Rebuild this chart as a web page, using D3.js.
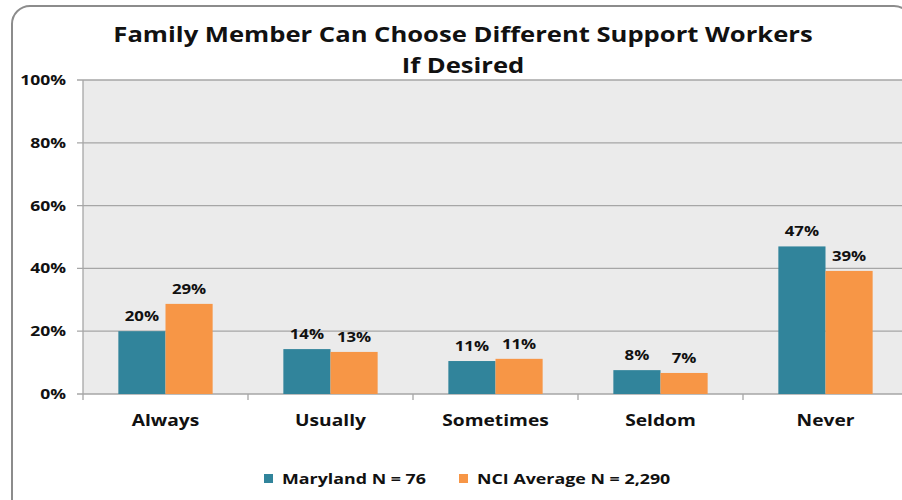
<!DOCTYPE html>
<html><head><meta charset="utf-8">
<script src="https://cdn.jsdelivr.net/npm/d3@7"></script>
<style>body{margin:0;background:#fff}svg{display:block}</style>
</head><body>
<svg id="c" width="902" height="500"></svg>
<script>
const categories = ["Always","Usually","Sometimes","Seldom","Never"];
const seriesNames = ["Maryland N = 76","NCI Average N = 2,290"];
const maryland = [20,14.3,10.5,7.6,47];
const nci = [28.7,13.4,11.2,6.7,39.2];
const yTicks = [0,20,40,60,80,100];
const colors = ["#31849b","#f79646"];
const titleLines = ["Family Member Can Choose Different Support Workers","If Desired"];

const svg = d3.select("#c");
const font = "'Open Sans', sans-serif";

function txt(parent, x, y, s, size, anchor, sx){
  return parent.append("text")
    .attr("transform",`translate(${x},${y}) scale(${sx},1)`)
    .attr("text-anchor",anchor).attr("font-family",font).attr("font-weight","bold")
    .attr("font-size",size).attr("fill","#111").text(s);
}

svg.append("rect").attr("x",12).attr("y",6).attr("width",900).attr("height",520)
  .attr("rx",18).attr("fill","#fff").attr("stroke","#8c8c8c").attr("stroke-width",2);

const L=83, T=80, B=394, R=908;
const x = d3.scaleBand().domain(categories).range([L,R]);
const y = d3.scaleLinear().domain([0,100]).range([B,T]);
svg.append("rect").attr("x",L).attr("y",T).attr("width",R-L).attr("height",B-T).attr("fill","#ebebeb");

svg.append("g").selectAll("line").data(yTicks).join("line")
  .attr("x1",L-6).attr("x2",R).attr("y1",d=>y(d)).attr("y2",d=>y(d))
  .attr("stroke","#a6a6a6").attr("stroke-width",1.3);
svg.append("line").attr("x1",L).attr("x2",L).attr("y1",T).attr("y2",B).attr("stroke","#a6a6a6").attr("stroke-width",1.3);
svg.append("g").selectAll("line").data(categories).join("line")
  .attr("x1",d=>x(d)).attr("x2",d=>x(d)).attr("y1",B).attr("y2",B+6)
  .attr("stroke","#a6a6a6").attr("stroke-width",1.3);

const gy = svg.append("g");
yTicks.forEach(d=>txt(gy, 66, y(d)+5, d+"%", 13.5, "end", 1.3));

const x1 = d3.scaleBand().domain([0,1]).range([0,x.bandwidth()]).paddingInner(0).paddingOuter(0.75);
const series=[maryland,nci];
series.forEach((vals,si)=>{
  const g=svg.append("g");
  g.selectAll("rect").data(categories).join("rect")
    .attr("x",d=>x(d)+x1(si)).attr("width",x1.bandwidth())
    .attr("y",(d,i)=>y(vals[i])).attr("height",(d,i)=>B-y(vals[i]))
    .attr("fill",colors[si]);
  const gl=svg.append("g");
  categories.forEach((c,i)=>txt(gl, x(c)+x1(si)+x1.bandwidth()/2, y(vals[i])-10, Math.round(vals[i])+"%", 14, "middle", 1.2));
});

const gc = svg.append("g");
categories.forEach(c=>txt(gc, x(c)+x.bandwidth()/2, 426, c, 16, "middle", 1.2));

const gt = svg.append("g");
titleLines.forEach((t,i)=>txt(gt, 463, 42+i*31, t, 21, "middle", 1.22));

const legX=[264,459];
seriesNames.forEach((n,i)=>{
  svg.append("rect").attr("x",legX[i]).attr("y",474).attr("width",9).attr("height",9).attr("fill",colors[i]);
  txt(svg, legX[i]+18, 484, n, 15, "start", 1.19);
});
</script>
</body></html>
